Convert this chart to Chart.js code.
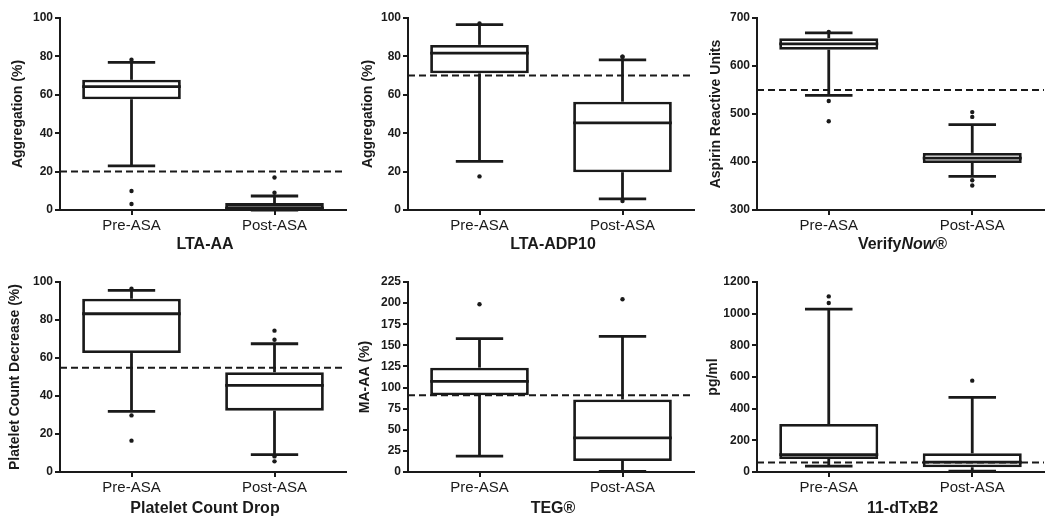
<!DOCTYPE html>
<html>
<head>
<meta charset="utf-8">
<script src="https://cdn.jsdelivr.net/npm/chart.js@4.4.0/dist/chart.umd.min.js"></script>
<style>
  body { margin: 0; background: #fff; width: 1048px; height: 520px; position: relative; overflow: hidden;
         font-family: "Liberation Sans", Arial, sans-serif; }
  canvas { position: absolute; }
  .ptitle { position: absolute; height: 20px; line-height: 20px; text-align: center;
            font-size: 16px; font-weight: bold; color: #1a1a1a; white-space: nowrap; }
</style>
</head>
<body>
<script>
// ---- data ----
const categories = ['Pre-ASA', 'Post-ASA'];
const panelTitles = ['LTA-AA', 'LTA-ADP10', 'Verify<i>Now</i>®', 'Platelet Count Drop', 'TEG®', '11-dTxB2'];
const yTitles = ['Aggregation (%)', 'Aggregation (%)', 'Aspirin Reactive Units',
                 'Platelet Count Decrease (%)', 'MA-AA (%)', 'pg/ml'];
const yMin = [0, 0, 300, 0, 0, 0];
const yMax = [100, 100, 700, 100, 225, 1200];
const yStep = [20, 20, 100, 20, 25, 200];

// [Pre, Post] per panel
const whiskerLow  = [[23, 0],   [25.3, 5.8], [539, 370], [31.9, 9.1], [18.9, 0.8], [37, 5]];
const boxLow      = [[57.7, 0], [71.2, 19.7], [634, 398], [62.6, 32.3], [90.8, 13], [82, 30]];
const medians     = [[64.3, 1], [81.7, 45.4], [646, 408], [83.3, 45.6], [107.4, 40.3], [110, 62]];
const boxHigh     = [[67.8, 3.6], [86, 56.4], [658, 419], [91.2, 52.5], [123.6, 86], [303, 118]];
const whiskerHigh = [[76.9, 7.3], [96.5, 78.2], [669, 478], [95.6, 67.5], [157.9, 160.7], [1029, 471]];
const outliersPre  = [[78.3, 9.9, 3.1], [97.2, 17.5], [671, 527, 485], [96.5, 29.8, 16.5], [198.6], [1109, 1067]];
const outliersPost = [[9, 16.9], [79.8, 79.8, 4.7], [494, 504, 362, 351], [74.4, 69.6, 8.2, 5.6], [204.5], [577]];
const thresholds = [20, 70, 550, 54.9, 90.8, 60];

// ---- layout ----
const ink = '#1a1a1a';
const panelLeft = [0, 350, 698, 0, 350, 698];
const panelTop = [0, 0, 0, 250, 250, 250];
const panelWidth = [350, 348, 350, 350, 348, 350];
const panelHeight = [250, 250, 250, 270, 270, 270];
const yAxisWidth = [60, 58, 59, 60, 58, 59];
const xAxisHeight = [40, 40, 40, 48, 48, 48];
const padTop = [18, 18, 18, 32, 32, 32];
const yTitlePad = [11, 11, 11, 8, 8, 8];
const titleY = [244, 244, 244, 508, 508, 508];

const boxPlot = {
  id: 'boxPlot',
  afterDatasetsDraw(chart, args, opts) {
    const {ctx, chartArea, scales: {y}} = chart;
    const meta = chart.getDatasetMeta(0);
    const line = (x1, y1, x2, y2) => { ctx.beginPath(); ctx.moveTo(x1, y1); ctx.lineTo(x2, y2); ctx.stroke(); };
    ctx.save();
    ctx.strokeStyle = ink;
    ctx.lineWidth = 2.8;
    meta.data.forEach((bar, i) => {
      const cx = bar.x;
      const half = bar.width / 2;
      const cap = bar.width * 0.24;
      const lo = y.getPixelForValue(opts.low[i]);
      const q1 = y.getPixelForValue(opts.q1[i]);
      const q3 = y.getPixelForValue(opts.q3[i]);
      const hi = y.getPixelForValue(opts.high[i]);
      const md = y.getPixelForValue(opts.median[i]);
      line(cx, q3, cx, hi);
      line(cx - cap, hi, cx + cap, hi);
      line(cx, q1, cx, lo);
      line(cx - cap, lo, cx + cap, lo);
      line(cx - half, md, cx + half, md);
    });
    const ty = y.getPixelForValue(opts.threshold);
    ctx.lineWidth = 2;
    ctx.setLineDash([7, 4]);
    line(chartArea.left, ty, chartArea.right, ty);
    ctx.restore();
  }
};

for (let p = 0; p < 6; p++) {
  const canvas = document.createElement('canvas');
  canvas.width = panelWidth[p];
  canvas.height = panelHeight[p];
  canvas.style.left = panelLeft[p] + 'px';
  canvas.style.top = panelTop[p] + 'px';
  document.body.appendChild(canvas);

  const title = document.createElement('div');
  title.className = 'ptitle';
  const axisLeft = panelLeft[p] + yAxisWidth[p];
  const axisRight = panelLeft[p] + panelWidth[p];
  title.style.left = axisLeft + 'px';
  title.style.width = (axisRight - axisLeft) + 'px';
  title.style.top = (titleY[p] - 10) + 'px';
  title.innerHTML = panelTitles[p];
  document.body.appendChild(title);

  const points = outliersPre[p].map(v => ({x: categories[0], y: v}))
    .concat(outliersPost[p].map(v => ({x: categories[1], y: v})));

  new Chart(canvas, {
    type: 'bar',
    data: {
      labels: categories,
      datasets: [{
        data: categories.map((c, i) => [boxLow[p][i], boxHigh[p][i]]),
        backgroundColor: '#fff',
        borderColor: ink,
        borderWidth: 2.8,
        borderSkipped: false,
        barPercentage: 0.69,
        categoryPercentage: 1,
        clip: false
      }, {
        type: 'scatter',
        data: points,
        pointRadius: 2.2,
        pointBackgroundColor: ink,
        pointBorderWidth: 0,
        clip: false
      }]
    },
    options: {
      responsive: false,
      animation: false,
      layout: {padding: {top: padTop[p], left: 0, right: 0, bottom: 0}},
      plugins: {
        legend: {display: false},
        tooltip: {enabled: false},
        boxPlot: {
          low: whiskerLow[p].slice(), q1: boxLow[p].slice(), median: medians[p].slice(),
          q3: boxHigh[p].slice(), high: whiskerHigh[p].slice(), threshold: thresholds[p]
        }
      },
      scales: {
        x: {
          type: 'category',
          offset: true,
          grid: {display: true, offset: false, drawOnChartArea: false, drawTicks: true, tickLength: 5, color: ink, lineWidth: 2},
          border: {display: true, color: ink, width: 2},
          ticks: {color: ink, font: {family: '"Liberation Sans", Arial', size: 15}, padding: 2},
          afterFit(s) { s.height = xAxisHeight[p]; }
        },
        y: {
          min: yMin[p],
          max: yMax[p],
          ticks: {
            stepSize: yStep[p], color: ink, padding: 2,
            font: {family: '"Liberation Sans", Arial', size: 12, weight: 'bold'},
            callback: v => String(v)
          },
          grid: {display: true, drawOnChartArea: false, drawTicks: true, tickLength: 5, color: ink, lineWidth: 2},
          border: {display: true, color: ink, width: 2},
          title: {
            display: true, text: yTitles[p], color: ink,
            font: {family: '"Liberation Sans", Arial', size: 14, weight: 'bold', lineHeight: 1},
            padding: {top: yTitlePad[p], bottom: 0}
          },
          afterFit(s) { s.width = yAxisWidth[p]; }
        }
      }
    },
    plugins: [boxPlot]
  });
}
</script>
</body>
</html>
